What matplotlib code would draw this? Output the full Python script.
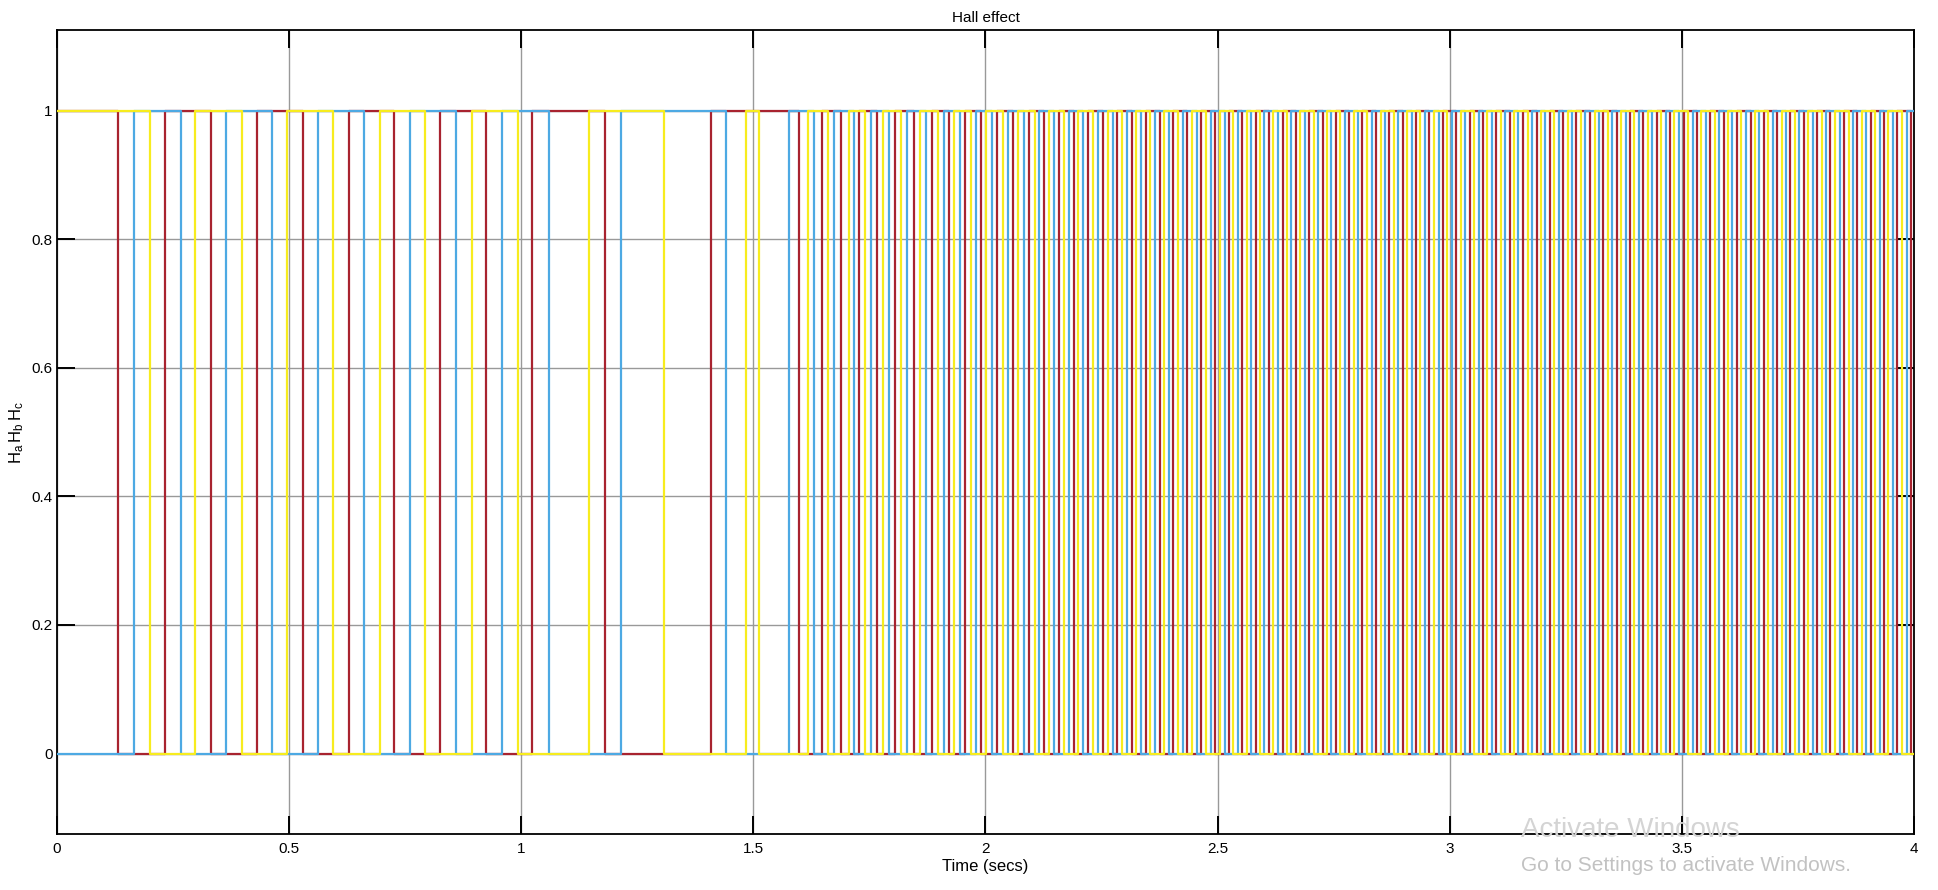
import numpy as np
import matplotlib
matplotlib.use("Agg")
import matplotlib.pyplot as plt

plt.rcParams['font.family'] = ['Liberation Sans', 'DejaVu Sans']
plt.rcParams['mathtext.default'] = 'regular'

# ---------------- data: switching instants (s) of each Hall signal ----------------
t_end = 4.0
init_a, init_b, init_c = 1, 0, 1

edges_a = [0.132, 0.232, 0.331, 0.430, 0.530, 0.629, 0.727, 0.826, 0.925, 1.023, 1.180, 1.409,
           1.599, 1.647, 1.689, 1.728, 1.767, 1.806, 1.845, 1.884, 1.922, 1.956, 1.991, 2.025,
           2.060, 2.094, 2.127, 2.158, 2.190, 2.221, 2.253, 2.284, 2.315, 2.345, 2.375, 2.405,
           2.435, 2.465, 2.495,
           2.524, 2.553, 2.582, 2.611, 2.640, 2.668, 2.697, 2.726, 2.755, 2.784, 2.812, 2.841,
           2.870, 2.899, 2.928, 2.956, 2.985, 3.014, 3.043, 3.072, 3.100, 3.129, 3.158, 3.187,
           3.216, 3.244, 3.273, 3.302, 3.331, 3.360, 3.388, 3.417, 3.446, 3.475, 3.504, 3.532,
           3.561, 3.590, 3.619, 3.648, 3.676, 3.705, 3.734, 3.763, 3.792, 3.820, 3.849, 3.878,
           3.907, 3.936, 3.964, 3.993]

edges_b = [0.166, 0.267, 0.364, 0.464, 0.563, 0.661, 0.760, 0.860, 0.959, 1.059, 1.215, 1.441,
           1.577, 1.631, 1.674, 1.717, 1.754, 1.793, 1.832, 1.871, 1.910, 1.945, 1.979, 2.014,
           2.048, 2.083, 2.116, 2.148, 2.179, 2.211, 2.242, 2.274, 2.305, 2.335, 2.365, 2.395,
           2.425, 2.455, 2.485,
           2.515, 2.544, 2.572, 2.601, 2.630, 2.659, 2.688, 2.716, 2.745, 2.774, 2.803, 2.832,
           2.860, 2.889, 2.918, 2.947, 2.976, 3.004, 3.033, 3.062, 3.091, 3.120, 3.148, 3.177,
           3.206, 3.235, 3.264, 3.292, 3.321, 3.350, 3.379, 3.408, 3.436, 3.465, 3.494, 3.523,
           3.552, 3.580, 3.609, 3.638, 3.667, 3.696, 3.724, 3.753, 3.782, 3.811, 3.840, 3.868,
           3.897, 3.926, 3.955, 3.984]

edges_c = [0.200, 0.298, 0.399, 0.495, 0.595, 0.696, 0.793, 0.894, 0.993, 1.146, 1.308, 1.484,
           1.512, 1.618, 1.661, 1.705, 1.741, 1.780, 1.819, 1.858, 1.897, 1.933, 1.968, 2.002,
           2.037, 2.071, 2.106, 2.137, 2.169, 2.200, 2.232, 2.263, 2.295, 2.325, 2.355, 2.385,
           2.415, 2.445, 2.475, 2.505,
           2.534, 2.563, 2.592, 2.620, 2.649, 2.678, 2.707, 2.736, 2.764, 2.793, 2.822, 2.851,
           2.880, 2.908, 2.937, 2.966, 2.995, 3.024, 3.052, 3.081, 3.110, 3.139, 3.168, 3.196,
           3.225, 3.254, 3.283, 3.312, 3.340, 3.369, 3.398, 3.427, 3.456, 3.484, 3.513, 3.542,
           3.571, 3.600, 3.628, 3.657, 3.686, 3.715, 3.744, 3.772, 3.801, 3.830, 3.859, 3.888,
           3.916, 3.945, 3.974]

x_ticks = [0, 0.5, 1, 1.5, 2, 2.5, 3, 3.5, 4]
x_tick_labels = ['0', '0.5', '1', '1.5', '2', '2.5', '3', '3.5', '4']
y_ticks = [0, 0.2, 0.4, 0.6, 0.8, 1]
y_tick_labels = ['0', '0.2', '0.4', '0.6', '0.8', '1']


def square_wave(edges, init):
    t = np.concatenate([[0.0], np.asarray(edges, float), [t_end]])
    lv = [(init + k) % 2 for k in range(len(edges) + 1)]
    lv = np.asarray(lv + [lv[-1]], float)
    return t, lv


fig = plt.figure(figsize=(19.38, 8.90), dpi=100)
ax = fig.add_axes([0.0294, 0.063, 0.9582, 0.903])

series = [(edges_a, init_a, '#A8232F'),
          (edges_b, init_b, '#4DA9E3'),
          (edges_c, init_c, '#F7EC1E')]
for edges, init, col in series:
    t, lv = square_wave(edges, init)
    ax.step(t, lv, where='post', color=col, lw=1.6, zorder=3)

ax.set_xlim(0, 4)
ax.set_ylim(-0.125, 1.125)
ax.set_xticks(x_ticks)
ax.set_xticklabels(x_tick_labels)
ax.set_yticks(y_ticks)
ax.set_yticklabels(y_tick_labels)
ax.grid(True, color='#999999', lw=1.0, zorder=0)
ax.tick_params(direction='in', length=13, width=1.4, top=True, right=True,
               labelsize=11, colors='black', pad=6)
ax.tick_params(axis='y', pad=3)
for s in ax.spines.values():
    s.set_color('black')
    s.set_linewidth(1.3)

ax.set_title('Hall effect', fontsize=11, pad=6)
ax.set_xlabel('Time (secs)', fontsize=12, labelpad=2)
ax.set_ylabel(r'$H_a\,H_b\,H_c$', fontsize=12, labelpad=4)

fig.text(0.785, 0.067, 'Activate Windows', fontsize=20, color='#d4d4d4', ha='left',
         va='center', zorder=10)
fig.text(0.785, 0.028, 'Go to Settings to activate Windows.', fontsize=15, color='#c2c2c2',
         ha='left', va='center', zorder=10)

fig.savefig('out.png', dpi=100)
